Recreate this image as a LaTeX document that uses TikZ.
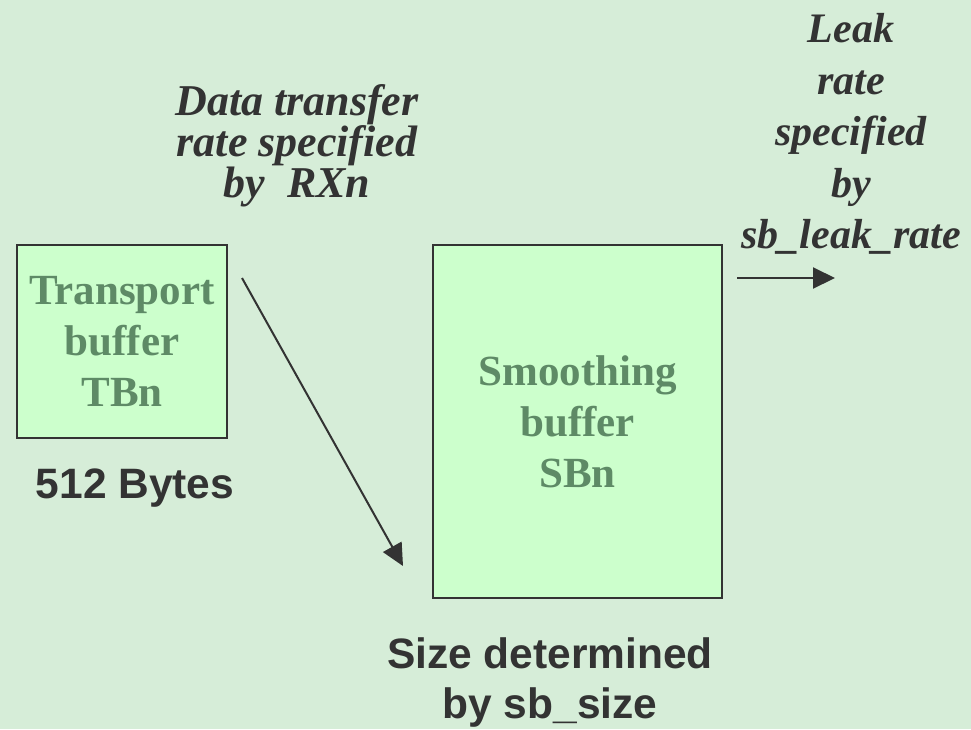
\documentclass[tikz,border=0pt]{standalone}
\usepackage{fontspec}
\setmainfont{Liberation Serif}
\setsansfont{Liberation Sans}
\usetikzlibrary{arrows.meta}
\definecolor{bgGreen}{HTML}{D6EDD8}
\definecolor{boxGreen}{HTML}{CCFFCC}
\definecolor{boxText}{HTML}{5E8A66}
\definecolor{darkGray}{HTML}{333333}
\begin{document}
\begin{tikzpicture}[x=1pt,y=-1pt,
    buf/.style={draw=darkGray,line width=2.5pt,fill=boxGreen,inner sep=0pt,
        text=boxText,font=\fontsize{43}{51}\selectfont\bfseries,align=center},
    rate/.style={text=darkGray,font=\fontsize{44}{41}\selectfont\bfseries\itshape,align=center},
    leak/.style={text=darkGray,font=\fontsize{42}{51.5}\selectfont\bfseries\itshape,align=center},
    size/.style={text=darkGray,font=\fontsize{42.5}{50}\selectfont\sffamily\bfseries,align=center},
    flow/.style={draw=darkGray,line width=2pt,-{Triangle[length=22pt,width=21pt]}}]

\fill[bgGreen] (0,0) rectangle (971,729);
\useasboundingbox (0,0) rectangle (971,729);

\coordinate (cTBPt) at (122,341.5);
\coordinate (cSBPt) at (577.5,421.5);
\coordinate (cRXaPt) at (242,278);
\coordinate (cRXbPt) at (403,566);
\coordinate (cLKaPt) at (737,278);
\coordinate (cLKbPt) at (835,278);

% buffers
\node[buf,minimum width=210pt,minimum height=193pt] (TB) at (cTBPt)
    {Transport\\buffer\\ TBn};
\node[buf,minimum width=289pt,minimum height=353pt] (SB) at (cSBPt)
    {Smoothing\\buffer\\ SBn};

% labels
\node[rate] (rxText) at (297,146) {Data transfer\\ rate specified\\ by~~RXn};
\node[leak] (leakText) at (851,134) {Leak\\rate\\specified\\by\\sb\_leak\_rate};
\node[size] (tbSize) at (135,488) {512 Bytes};
\node[size] (sbSize) at (550,682) {Size determined\\by sb\_size};

% flows
\draw[flow] (cRXaPt) -- (cRXbPt);
\draw[flow] (cLKaPt) -- (cLKbPt);

\end{tikzpicture}
\end{document}
